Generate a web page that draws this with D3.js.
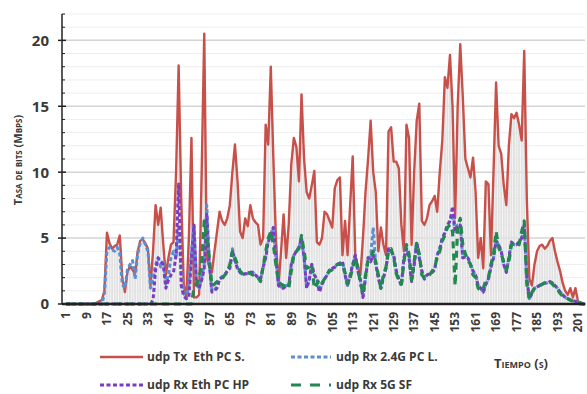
<!DOCTYPE html>
<html>
<head>
<meta charset="utf-8">
<script src="https://cdn.jsdelivr.net/npm/d3@7"></script>
<style>
  body { margin: 0; background: #ffffff; }
  svg { display: block; font-family: "Open Sans", "DejaVu Sans", sans-serif; }
</style>
</head>
<body>
<svg id="chart"></svg>
<script>
const width = 587
const height = 394

// Data, one value per second, t = 1 .. 204
const seconds = d3.range(1, 205)

const txEthPcS = [
  0, 0, 0, 0, 0, 0, 0, 0, 0, 0, 0, 0, 0.1, 0.2, 0.3, 1.0, 5.4, 4.6, 4.2, 4.4,
  4.5, 5.2, 2.0, 0.9, 2.4, 2.9, 2.6, 2.3, 4.0, 4.8, 4.9, 4.6, 4.2, 1.4, 4.0, 7.5, 6.0, 7.3, 4.5, 2.2,
  3.5, 4.5, 4.7, 10.0, 18.1, 8.0, 1.5, 0.4, 5.0, 12.6, 0.5, 0.5, 0.7, 10.0, 20.5, 3.5, 2.8, 2.4, 4.0, 5.5,
  7.0, 6.3, 6.0, 6.5, 7.5, 10.0, 12.1, 9.3, 5.5, 5.0, 6.5, 5.9, 7.5, 6.5, 6.2, 6.0, 4.5, 5.0, 13.6, 12.1,
  18.0, 11.0, 5.0, 1.4, 4.0, 6.8, 3.5, 6.0, 10.6, 12.6, 11.9, 9.3, 15.9, 11.0, 8.5, 8.0, 9.0, 10.1, 4.7, 4.5,
  5.0, 7.0, 6.8, 6.3, 5.8, 8.8, 9.4, 9.6, 3.7, 6.3, 3.7, 7.5, 11.2, 3.7, 2.8, 2.2, 5.0, 8.5, 11.0, 13.9,
  10.0, 8.5, 4.0, 5.8, 4.5, 3.7, 13.1, 13.4, 10.8, 10.8, 10.3, 6.0, 4.0, 13.6, 12.6, 4.5, 10.0, 13.9, 15.2, 6.3,
  6.0, 6.5, 7.5, 7.8, 8.2, 7.0, 10.0, 12.4, 17.2, 16.4, 18.9, 14.9, 6.5, 15.0, 19.7, 15.7, 11.0, 10.3, 9.6, 11.1,
  8.5, 3.5, 5.0, 2.7, 9.3, 9.1, 3.7, 10.0, 16.8, 12.0, 11.4, 9.0, 7.5, 12.0, 14.4, 14.1, 14.5, 13.6, 12.4, 19.2,
  8.0, 1.9, 1.4, 3.0, 4.0, 4.4, 4.5, 4.2, 4.4, 4.8, 5.0, 4.0, 3.2, 2.5, 1.6, 1.0, 0.7, 1.2, 0.5, 1.2,
  0.2, 0.1, 0, 0
]

const rx24PcL = [
  0, 0, 0, 0, 0, 0, 0, 0, 0, 0, 0, 0, 0, 0, 0, 0.8, 4.0, 4.3, 4.1, 4.0,
  4.3, 3.8, 1.5, 1.2, 2.6, 3.0, 3.3, 1.9, 3.8, 4.6, 5.0, 4.5, 4.0, 1.2, 1.9, 3.0, 3.5, 2.8, 3.3, 1.5,
  2.2, 3.5, 4.0, 3.5, 6.0, 2.5, 0.8, 0.4, 1.5, 4.0, 6.0, 1.5, 1.2, 2.0, 3.0, 7.5, 3.0, 1.0, 1.1, 1.3,
  1.9, 2.1, 2.2, 2.5, 2.8, 4.2, 3.3, 2.7, 2.4, 2.2, 2.3, 2.3, 2.4, 2.4, 2.2, 2.0, 1.9, 2.8, 3.6, 4.8,
  5.3, 5.8, 3.4, 1.5, 1.3, 1.2, 1.4, 1.4, 3.0, 3.7, 4.0, 4.3, 5.0, 3.5, 1.3, 1.8, 3.0, 2.2, 1.9, 1.0,
  1.5, 1.9, 2.2, 2.6, 2.7, 2.8, 3.0, 3.1, 3.2, 2.2, 1.4, 2.2, 3.0, 3.7, 2.5, 1.8, 0.5, 2.0, 3.5, 3.6,
  5.8, 3.0, 2.0, 1.2, 2.0, 2.7, 4.2, 4.0, 3.7, 2.5, 1.9, 1.4, 3.5, 4.2, 3.5, 1.7, 3.0, 4.7, 3.5, 2.5,
  1.9, 2.2, 2.3, 2.4, 2.6, 3.7, 4.2, 5.0, 5.4, 6.0, 6.3, 6.8, 5.5, 6.0, 6.0, 3.5, 3.6, 3.5, 3.0, 2.5,
  2.2, 1.4, 1.2, 0.9, 1.5, 1.9, 2.8, 3.5, 4.8, 4.5, 4.0, 3.0, 2.4, 3.5, 4.7, 4.5, 4.5, 4.7, 5.0, 6.0,
  2.0, 0.4, 0.8, 1.2, 1.3, 1.4, 1.5, 1.6, 1.6, 1.7, 1.6, 1.4, 1.2, 0.9, 0.7, 0.5, 0.4, 0.3, 0.25, 0.2,
  0.15, 0.1, 0, 0
]

const rxEthPcHp = [
  0, 0, 0, 0, 0, 0, 0, 0, 0, 0, 0, 0, 0, 0, 0, 0, 0, 0, 0, 0,
  0, 0, 0, 0, 0, 0, 0, 0, 0, 0, 0, 0, 0, 0, 0.3, 2.6, 3.5, 3.2, 3.0, 1.2,
  1.8, 2.2, 2.4, 3.7, 9.1, 1.4, 0.6, 0.4, 0.5, 3.5, 6.0, 1.4, 1.2, 1.8, 2.7, 6.8, 3.0, 0.9, 1.0, 1.2,
  1.9, 2.0, 2.2, 2.5, 2.7, 4.0, 3.3, 2.7, 2.4, 2.2, 2.3, 2.3, 2.4, 2.4, 2.2, 2.0, 1.9, 2.8, 3.5, 4.7,
  5.2, 5.8, 3.5, 1.4, 1.2, 1.2, 1.4, 1.4, 3.0, 3.7, 4.0, 4.3, 5.0, 3.5, 1.2, 1.8, 3.0, 2.2, 1.9, 0.9,
  1.5, 1.9, 2.2, 2.6, 2.7, 2.8, 3.0, 3.1, 3.2, 2.2, 1.4, 2.2, 3.0, 3.7, 2.5, 1.8, 0.5, 2.0, 3.5, 3.2,
  3.7, 3.0, 2.0, 1.2, 2.0, 2.7, 4.2, 4.0, 3.7, 2.5, 1.9, 1.4, 3.5, 4.2, 3.5, 1.7, 3.0, 4.7, 3.5, 2.5,
  1.9, 2.2, 2.3, 2.4, 2.6, 3.7, 4.2, 5.0, 5.4, 6.0, 6.3, 7.4, 5.5, 6.0, 6.0, 3.5, 3.6, 3.5, 3.0, 2.5,
  2.2, 1.4, 1.2, 0.9, 1.5, 1.9, 2.8, 3.5, 4.8, 4.5, 4.0, 3.0, 2.4, 3.5, 4.7, 4.5, 4.5, 4.7, 5.0, 6.0,
  2.0, 0.4, 0.8, 1.2, 1.3, 1.4, 1.5, 1.6, 1.6, 1.7, 1.6, 1.4, 1.2, 0.9, 0.7, 0.5, 0.4, 0.3, 0.25, 0.2,
  0.15, 0.1, 0, 0
]

const rx5gSf = [
  0, 0, 0, 0, 0, 0, 0, 0, 0, 0, 0, 0, 0, 0, 0, 0, 0, 0, 0, 0,
  0, 0, 0, 0, 0, 0, 0, 0, 0, 0, 0, 0, 0, 0, 0, 0, 0, 0, 0, 0,
  0, 0, 0, 0, 0, 0, 0, 0, 0, 0, 1.2, 1.5, 2.0, 3.0, 6.3, 5.0, 3.5, 1.4, 1.5, 1.7,
  1.8, 1.9, 2.2, 2.4, 3.0, 4.0, 3.5, 3.0, 2.5, 2.3, 2.4, 2.4, 2.3, 2.2, 2.2, 2.0, 1.7, 2.8, 4.0, 5.0,
  5.5, 4.5, 3.0, 1.7, 1.5, 1.4, 1.3, 1.2, 2.5, 3.7, 4.0, 4.2, 5.2, 4.0, 2.7, 2.8, 3.0, 1.2, 1.5, 1.9,
  1.6, 1.9, 2.3, 2.5, 2.6, 2.9, 3.0, 3.0, 3.1, 2.4, 1.5, 2.0, 2.7, 3.5, 2.8, 1.6, 0.8, 2.2, 3.3, 3.6,
  4.0, 3.2, 2.2, 1.2, 2.2, 2.8, 4.0, 4.2, 3.5, 2.3, 1.8, 1.5, 3.2, 4.5, 3.8, 1.8, 3.2, 4.6, 3.8, 2.2,
  2.0, 2.1, 2.2, 2.5, 2.8, 3.5, 4.0, 4.8, 5.2, 5.8, 6.0, 5.5, 1.4, 5.8, 6.5, 4.5, 3.8, 3.3, 3.0, 2.2,
  2.0, 1.2, 1.0, 1.2, 1.8, 2.0, 3.0, 3.8, 5.5, 4.3, 3.8, 3.2, 2.6, 3.2, 4.5, 4.6, 4.6, 4.5, 5.5, 6.3,
  1.5, 0.4, 0.9, 1.2, 1.3, 1.4, 1.5, 1.6, 1.7, 1.7, 1.5, 1.3, 1.1, 0.8, 0.6, 0.5, 0.4, 0.3, 0.2, 0.1,
  0.1, 0, 0, 0
]

const xTickValues = d3.range(1, 202, 8)
const yTickValues = [0, 5, 10, 15, 20]
const legendLabels = ["udp Tx  Eth PC S.", "udp Rx 2.4G PC L.", "udp Rx Eth PC HP", "udp Rx 5G SF"]

// Layout
const plotLeft = 62
const plotRight = 585
const plotTop = 14
const plotBottom = 304

const textColor = "#3a3a3a"

const x = d3.scaleLinear()
  .domain([1, 201])
  .range([66, 578])

const y = d3.scaleLinear()
  .domain([0, 22])
  .range([plotBottom, plotTop])

const svg = d3.select("#chart")
  .attr("width", width)
  .attr("height", height)

// Minor and major gridlines
svg.append("g")
  .selectAll("line")
  .data(d3.range(1, 23).filter(v => v % 5 != 0))
  .enter()
  .append("line")
  .attr("x1", plotLeft)
  .attr("x2", plotRight)
  .attr("y1", d => y(d))
  .attr("y2", d => y(d))
  .attr("stroke", "#eeeeee")
  .attr("stroke-width", 1)

svg.append("g")
  .selectAll("line")
  .data(yTickValues.filter(v => v > 0))
  .enter()
  .append("line")
  .attr("x1", plotLeft)
  .attr("x2", plotRight)
  .attr("y1", d => y(d))
  .attr("y2", d => y(d))
  .attr("stroke", "#d4d4d4")
  .attr("stroke-width", 1.5)

// Light gray columns under the Tx line
const bandWidth = x(2) - x(1)
svg.append("g")
  .selectAll("rect")
  .data(seconds)
  .enter()
  .append("rect")
  .attr("x", d => x(d) - bandWidth * 0.38)
  .attr("width", bandWidth * 0.76)
  .attr("y", (d, i) => y(txEthPcS[i]))
  .attr("height", (d, i) => plotBottom - y(txEthPcS[i]))
  .attr("fill", "#e2e2e2")

// Series
const series = [
  { values: txEthPcS, color: "#c8504a", width: 2.4, dash: null },
  { values: rx24PcL, color: "#5b8fd2", width: 3, dash: "4,2.5" },
  { values: rxEthPcHp, color: "#7a3cc0", width: 3, dash: "4,2.5" },
  { values: rx5gSf, color: "#23884f", width: 3.2, dash: "7,5" }
]

const line = d3.line()
  .x((d, i) => x(seconds[i]))
  .y(d => y(d))

svg.append("g")
  .selectAll("path")
  .data(series)
  .enter()
  .append("path")
  .attr("d", s => line(s.values))
  .attr("fill", "none")
  .attr("stroke", s => s.color)
  .attr("stroke-width", s => s.width)
  .attr("stroke-dasharray", s => s.dash)
  .attr("stroke-linejoin", "round")

// Y axis
const yAxis = svg.append("g")
  .attr("transform", `translate(${plotLeft},0)`)

yAxis.append("line")
  .attr("y1", plotTop)
  .attr("y2", plotBottom)
  .attr("stroke", "#222")
  .attr("stroke-width", 1.5)

yAxis.selectAll(".minor")
  .data(d3.range(1, 23).filter(v => v % 5 != 0))
  .enter()
  .append("line")
  .attr("x1", 0)
  .attr("x2", 3)
  .attr("y1", d => y(d))
  .attr("y2", d => y(d))
  .attr("stroke", "#222")
  .attr("stroke-width", 1)

yAxis.selectAll(".major")
  .data(yTickValues)
  .enter()
  .append("line")
  .attr("x1", -4)
  .attr("x2", 4)
  .attr("y1", d => y(d))
  .attr("y2", d => y(d))
  .attr("stroke", "#222")
  .attr("stroke-width", 1.5)

yAxis.selectAll("text")
  .data(yTickValues)
  .enter()
  .append("text")
  .attr("x", -13)
  .attr("y", d => y(d))
  .attr("dy", "0.36em")
  .attr("text-anchor", "end")
  .attr("font-size", 15)
  .attr("font-weight", "bold")
  .attr("fill", textColor)
  .text(d => d)

// X axis
svg.append("line")
  .attr("x1", plotLeft)
  .attr("x2", plotRight)
  .attr("y1", plotBottom)
  .attr("y2", plotBottom)
  .attr("stroke", "#222")
  .attr("stroke-width", 2.5)

svg.append("g")
  .selectAll("text")
  .data(xTickValues)
  .enter()
  .append("text")
  .attr("transform", d => `translate(${x(d)},${plotBottom + 8}) rotate(-90)`)
  .attr("dy", "0.36em")
  .attr("text-anchor", "end")
  .attr("font-size", 12)
  .attr("font-weight", "bold")
  .attr("fill", textColor)
  .text(d => d)

// Axis titles
svg.append("text")
  .attr("transform", "translate(22,160) rotate(-90)")
  .attr("text-anchor", "middle")
  .attr("font-size", 11)
  .attr("font-weight", "bold")
  .attr("font-variant", "small-caps")
  .attr("fill", textColor)
  .text("Tasa de bits (Mbps)")

svg.append("text")
  .attr("x", 494)
  .attr("y", 368)
  .attr("font-size", 13)
  .attr("font-weight", "bold")
  .attr("font-variant", "small-caps")
  .attr("fill", textColor)
  .text("Tiempo (s)")

// Legend
const legendPos = [
  { x: 100, y: 357 },
  { x: 291, y: 357 },
  { x: 100, y: 385 },
  { x: 291, y: 385 }
]

const legend = svg.append("g")
  .selectAll("g")
  .data(series)
  .enter()
  .append("g")
  .attr("transform", (s, i) => `translate(${legendPos[i].x},${legendPos[i].y})`)

legend.append("line")
  .attr("x1", 0)
  .attr("x2", (s, i) => i % 2 == 0 ? 43 : 40)
  .attr("stroke", s => s.color)
  .attr("stroke-width", s => s.width)
  .attr("stroke-dasharray", (s, i) => i == 3 ? "10,9" : s.dash)

legend.append("text")
  .attr("x", (s, i) => i % 2 == 0 ? 47 : 45)
  .attr("dy", "0.36em")
  .attr("font-size", 12)
  .attr("font-weight", "bold")
  .attr("fill", textColor)
  .style("white-space", "pre")
  .text((s, i) => legendLabels[i])
</script>
</body>
</html>
